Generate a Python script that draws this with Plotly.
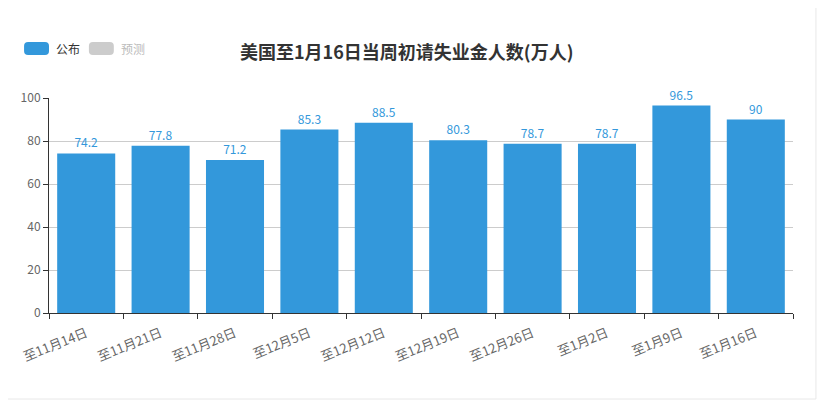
import plotly.graph_objects as go

weeks = ['至11月14日', '至11月21日', '至11月28日', '至12月5日', '至12月12日',
         '至12月19日', '至12月26日', '至1月2日', '至1月9日', '至1月16日']
claims = [74.2, 77.8, 71.2, 85.3, 88.5, 80.3, 78.7, 78.7, 96.5, 90]
legend_names = ['公布', '预测']
legend_colors = ['#3398DB', '#cccccc']
legend_text_colors = ['#333333', '#bbbbbb']

# page body has an 8px margin, so figure pixel coords = page coords - 8
W, H = 818, 405
L, R, T, B = 39, 33, 90, 100
pw, ph = W - L - R, H - T - B


def px(x):
    return (x - L) / pw


def py(y):
    return (H - B - y) / ph


def rounded_rect(x0, y0, x1, y1, r):
    a, b, c, d = px(x0), px(x1), py(y0), py(y1)
    rx, ry = r / pw, r / ph
    return (f'M {a + rx},{c} L {b - rx},{c} Q {b},{c} {b},{c - ry} '
            f'L {b},{d + ry} Q {b},{d} {b - rx},{d} L {a + rx},{d} '
            f'Q {a},{d} {a},{d + ry} L {a},{c - ry} Q {a},{c} {a + rx},{c} Z')


fig = go.Figure()
fig.add_trace(go.Bar(
    x=weeks, y=claims, name=legend_names[0],
    marker=dict(color=legend_colors[0], line=dict(width=0)),
    text=claims, texttemplate='%{y}', textposition='outside',
    textfont=dict(color='#3398DB', size=12),
    cliponaxis=False, showlegend=False,
))

# faint outer frame (right and bottom edges)
shapes = [
    dict(type='line', xref='paper', yref='paper',
         x0=px(808), x1=px(808), y0=py(-10), y1=py(391),
         line=dict(color='#e8e8e8', width=1), layer='below'),
    dict(type='line', xref='paper', yref='paper',
         x0=px(-10), x1=px(808), y0=py(391), y1=py(391),
         line=dict(color='#e8e8e8', width=1), layer='below'),
]
annotations = [dict(text='<b>美国至1月16日当周初请失业金人数(万人)</b>',
                    xref='paper', yref='paper', x=px(397), y=py(43),
                    showarrow=False, xanchor='center', yanchor='middle',
                    font=dict(size=18, color='#333333'))]
lx = [14, 79]
for i, name in enumerate(legend_names):
    shapes.append(dict(type='path', xref='paper', yref='paper',
                       path=rounded_rect(lx[i], 34, lx[i] + 25, 47, 4),
                       fillcolor=legend_colors[i], line=dict(width=0)))
    annotations.append(dict(text=name, xref='paper', yref='paper',
                            x=px(lx[i] + 30), y=py(41), showarrow=False,
                            xanchor='left', yanchor='middle',
                            font=dict(size=12, color=legend_text_colors[i])))

fig.update_layout(
    width=W, height=H,
    margin=dict(l=L, r=R, t=T, b=B),
    paper_bgcolor='white', plot_bgcolor='white',
    font=dict(family='Noto Sans CJK SC', size=12, color='#666666'),
    bargap=0.22,
    shapes=shapes, annotations=annotations,
    xaxis=dict(showline=True, linecolor='#333333', linewidth=1,
               ticks='outside', ticklen=5, tickcolor='#333333',
               tickson='boundaries', tickangle=-22, ticklabelstandoff=7,
               tickfont=dict(size=13, color='#666666'), showgrid=False),
    yaxis=dict(range=[0, 100], dtick=20, showline=True, linecolor='#333333',
               linewidth=1, ticks='outside', ticklen=5, tickcolor='#333333',
               showgrid=True, gridcolor='#cccccc', zeroline=False,
               tickfont=dict(size=12, color='#666666')),
)

fig.write_html('out.html')
